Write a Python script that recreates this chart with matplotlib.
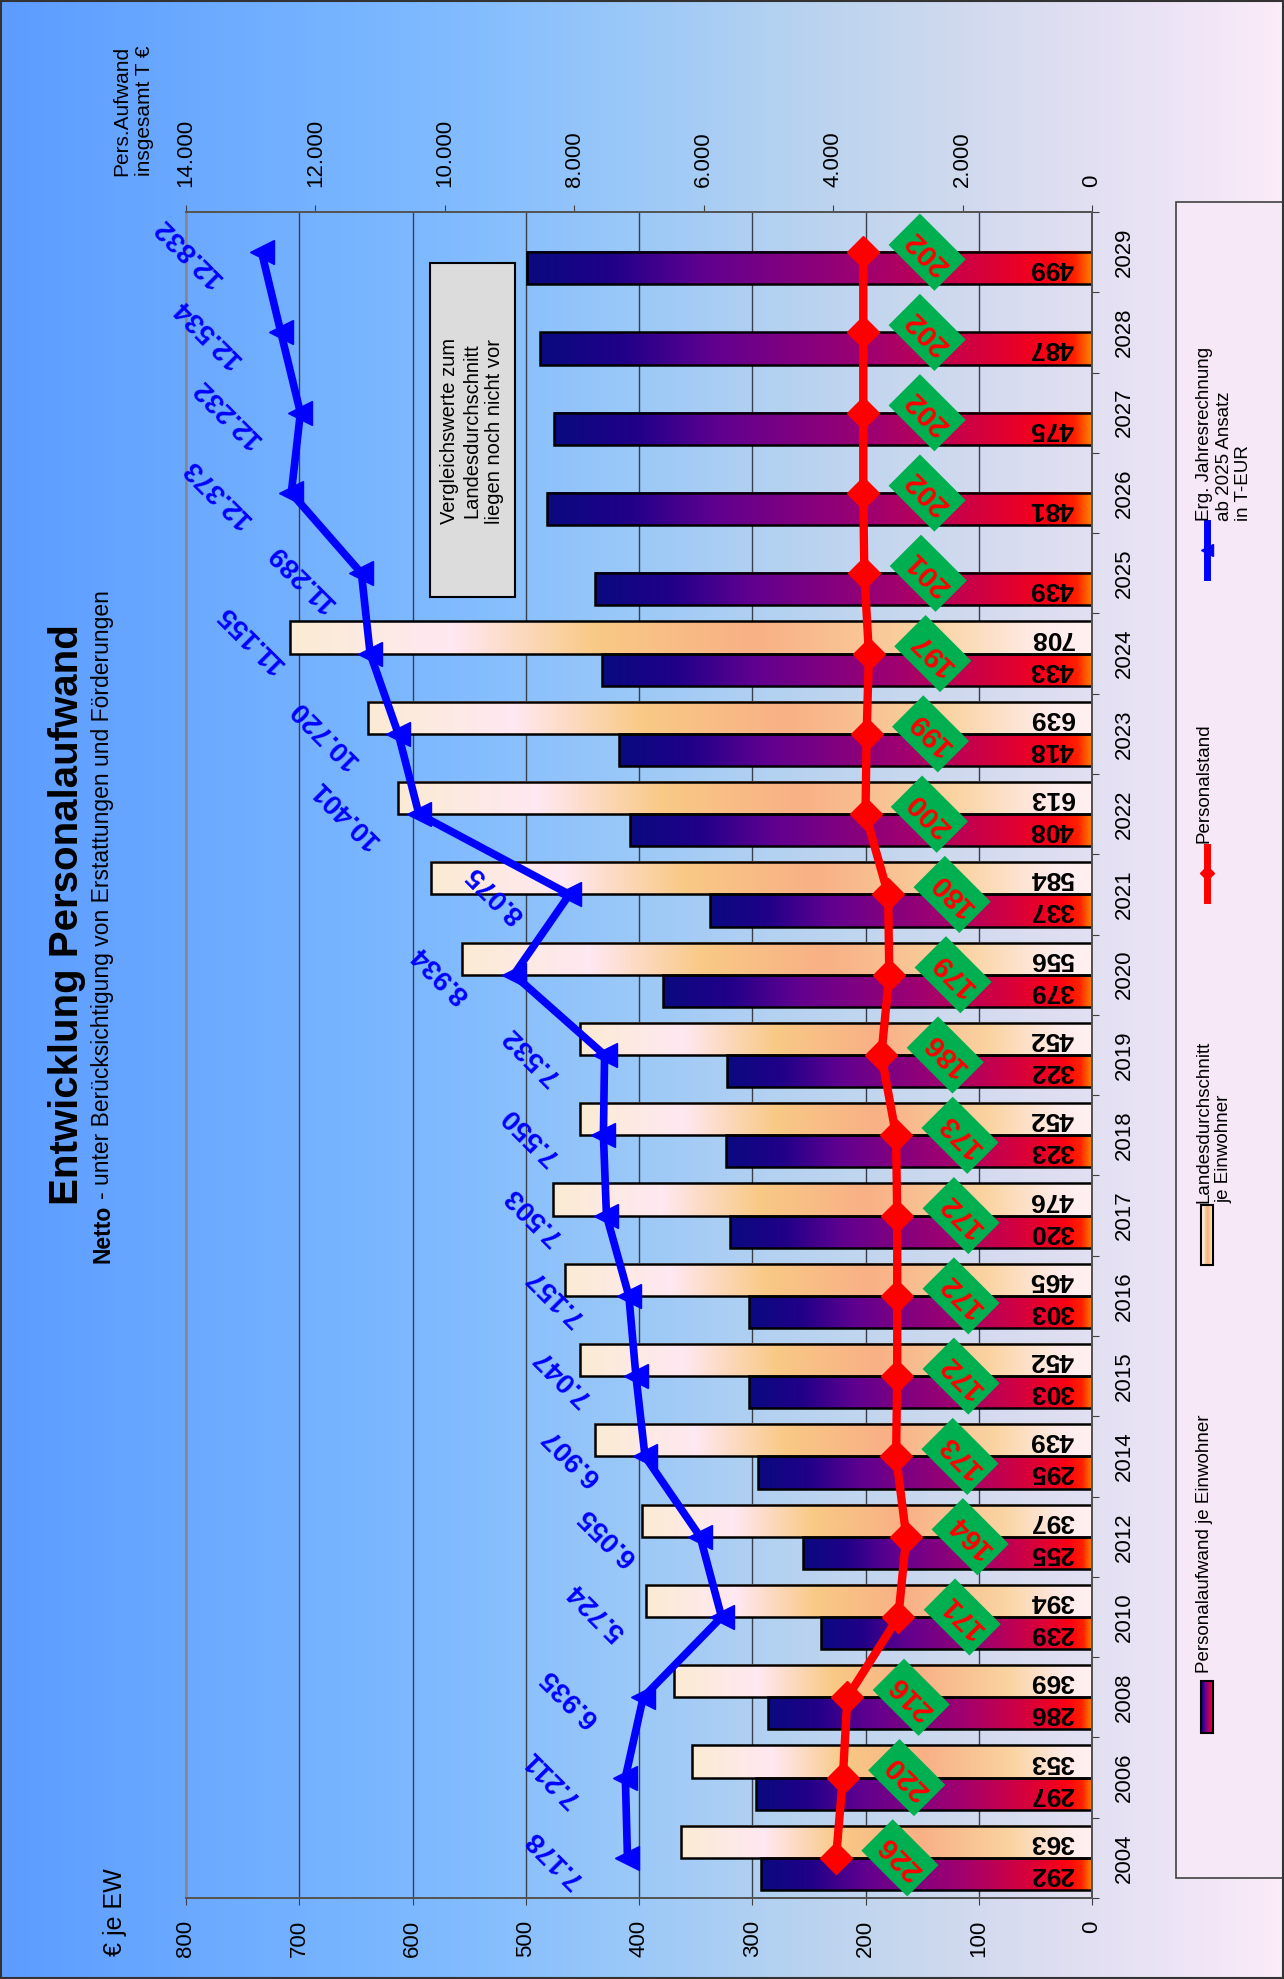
import numpy as np
import matplotlib.pyplot as plt
from matplotlib.colors import LinearSegmentedColormap
from matplotlib.patches import Rectangle

plt.rcParams['font.family'] = ['Liberation Sans', 'DejaVu Sans']

# Werte
jahre = ['2004', '2006', '2008', '2010', '2012', '2014', '2015', '2016', '2017', '2018',
         '2019', '2020', '2021', '2022', '2023', '2024', '2025', '2026', '2027', '2028', '2029']
aufwand_je_ew = [292, 297, 286, 239, 255, 295, 303, 303, 320, 323,
                 322, 379, 337, 408, 418, 433, 439, 481, 475, 487, 499]
landes_je_ew = [363, 353, 369, 394, 397, 439, 452, 465, 476, 452,
                452, 556, 584, 613, 639, 708, np.nan, np.nan, np.nan, np.nan, np.nan]
personalstand = [226, 220, 216, 171, 164, 173, 172, 172, 172, 173,
                 186, 179, 180, 200, 199, 197, 201, 202, 202, 202, 202]
aufwand_gesamt = [7178, 7211, 6935, 5724, 6055, 6907, 7047, 7157, 7503, 7550,
                  7532, 8934, 8075, 10401, 10720, 11155, 11289, 12373, 12232, 12534, 12832]
ticks_ew = list(range(0, 801, 100))
ticks_gesamt = list(range(0, 14001, 2000))

# Sonderpositionen einzelner Beschriftungen (Punkte)
blau_offset = {3: (-90, 4), 4: (-67, 0), 15: (-86, 11), 16: (-43, -3)}

W, H = 1284, 1979
fig = plt.figure(figsize=(W / 100, H / 100), dpi=100)

hg_cmap = LinearSegmentedColormap.from_list('hg', [
    (0.0, '#5C9CFF'), (0.2, '#70AEFF'), (0.35, '#80BBFF'), (0.5, '#9CC9F8'),
    (0.6, '#B3D1F1'), (0.7, '#C6D7EE'), (0.8, '#DADCF0'), (0.9, '#EAE3F5'), (1.0, '#FCEBF9')])
lila_cmap = LinearSegmentedColormap.from_list('lila', [
    (0.0, '#0A0A80'), (0.15, '#200088'), (0.31, '#600090'), (0.6, '#A00070'),
    (0.81, '#D8003A'), (0.92, '#FA0015'), (0.97, '#FF2000'), (1.0, '#FF8000')])
creme_cmap = LinearSegmentedColormap.from_list('creme', [
    (0.0, '#FBEBD3'), (0.2, '#FFE8F2'), (0.38, '#F9C985'), (0.58, '#F8B085'),
    (0.8, '#FAD3A0'), (0.95, '#FFEDEE'), (1.0, '#FFF0F0')])
grad = np.linspace(0, 1, 256)[None, :]

# Hintergrundverlauf
bg = fig.add_axes([0, 0, 1, 1], zorder=-5)
bg.imshow(grad, cmap=hg_cmap, aspect='auto', extent=[0, 1, 0, 1])
bg.axis('off')

# Diagrammfläche
links, rechts, oben, unten = 186, 1092, 212, 1898
ax = fig.add_axes([links / W, 1 - unten / H, (rechts - links) / W, (unten - oben) / H])
ax.patch.set_visible(False)
pos = np.arange(len(jahre))
breite = 0.4

balken_ew = ax.barh(pos - breite / 2, aufwand_je_ew, height=breite, facecolor='none',
                    edgecolor='black', linewidth=1.8, zorder=3)
balken_land = ax.barh(pos + breite / 2, landes_je_ew, height=breite, facecolor='none',
                      edgecolor='black', linewidth=1.8, zorder=3)


def verlauf_fuellen(balken, cmap):
    for b in balken:
        w = b.get_width()
        if np.isnan(w):
            continue
        x0, y0, h = b.get_x(), b.get_y(), b.get_height()
        ax.imshow(grad, cmap=cmap, aspect='auto', interpolation='bilinear',
                  extent=[x0 + w, x0, y0, y0 + h], zorder=2)


verlauf_fuellen(balken_ew, lila_cmap)
verlauf_fuellen(balken_land, creme_cmap)

for balken in (balken_ew, balken_land):
    for b in balken:
        w = b.get_width()
        if np.isnan(w):
            continue
        ax.annotate(f'{w:.0f}', xy=(0, b.get_y() + b.get_height() / 2), xytext=(-13, 0),
                    textcoords='offset points', rotation=180, ha='right', va='center',
                    fontsize=19, fontweight='bold', annotation_clip=False, zorder=4)

# Personalstand
ax.plot(personalstand, pos, color='#FF0000', lw=6, marker='D', ms=16, zorder=5)
for v, p in zip(personalstand, pos):
    ax.annotate(str(v), xy=(v, p), xytext=(46, 0), textcoords='offset points',
                rotation=135, ha='center', va='center', color='#FF0000',
                fontsize=21, fontweight='bold', zorder=6,
                bbox=dict(boxstyle='square,pad=0.28', fc='#00B050', ec='none'))

ax.set_xlim(800, 0)
ax.set_ylim(-0.5, len(jahre) - 0.5)
ax.set_xticks(ticks_ew)
ax.tick_params(axis='x', labelrotation=90, labelsize=16, length=5, pad=11, color='#404040')
ax.grid(axis='x', color='#3A3F4A', lw=1)
ax.set_axisbelow(True)

ax.yaxis.tick_right()
ax.set_yticks(np.arange(-0.5, len(jahre)), labels=[])
ax.set_yticks(pos, labels=jahre, minor=True)
ax.tick_params(axis='y', which='major', length=5, color='#404040')
ax.tick_params(axis='y', which='minor', length=0, pad=16, labelsize=16, labelrotation=90)
for t in ax.get_yticklabels(minor=True):
    t.set_va('center')

# Gesamtaufwand (zweite Achse)
ax2 = ax.twiny()
ax2.set_xlim(14000, 0)
ax2.set_xticks(ticks_gesamt, labels=[f'{v:,}'.replace(',', '.') for v in ticks_gesamt])
ax2.tick_params(axis='x', labelrotation=90, labelsize=16, length=5, pad=13, color='#404040')
ax2.plot(aufwand_gesamt, pos, color='#0000FF', lw=5.5, marker='<', ms=17, zorder=5)
for i, (v, p) in enumerate(zip(aufwand_gesamt, pos)):
    dx, dy = blau_offset.get(i, (-53, 0))
    ax2.annotate(f'{v:,}'.replace(',', '.'), xy=(v, p), xytext=(dx, dy),
                 textcoords='offset points', rotation=135, ha='center', va='center',
                 color='#0000FF', fontsize=20, fontweight='bold', zorder=6)

for a in (ax, ax2):
    for s in a.spines.values():
        s.set_color('#555555')
        s.set_linewidth(1.4)
ax.spines['left'].set_color('#888888')
ax2.spines['left'].set_color('#888888')

# Texte, Legende, Hinweis (Pixelkoordinaten)
fg = fig.add_axes([0, 0, 1, 1], zorder=10)
fg.set_autoscale_on(False)
fg.set_xlim(0, W)
fg.set_ylim(H, 0)
fg.axis('off')

fg.text(67, 915, 'Entwicklung Personalaufwand', rotation=90, ha='center', va='center',
        fontsize=29, fontweight='bold')
t = fg.text(103, 1263, 'Netto', rotation=90, ha='center', va='bottom',
            fontsize=16.5, fontweight='bold')
bb = t.get_window_extent(fig.canvas.get_renderer())
fg.text(103, H - bb.y1 - 6, '- unter Berücksichtigung von Erstattungen und Förderungen',
        rotation=90, ha='center', va='bottom', fontsize=16.5)

fg.text(115, 1956, '€ je EW', rotation=90, ha='center', va='bottom', fontsize=18)
fg.text(133, 176, 'Pers.Aufwand\ninsgesamt T €', rotation=90, ha='center', va='bottom',
        multialignment='left', fontsize=15)

# Hinweisbox
fg.add_patch(Rectangle((430, 263), 85, 334, fc='#DCDCDC', ec='black', lw=1.5))
fg.text(472, 431, 'Vergleichswerte zum\nLandesdurchschnitt\nliegen noch nicht vor',
        rotation=90, ha='center', va='center', multialignment='center', fontsize=14.5,
        linespacing=1.25)

# Legende
fg.add_patch(Rectangle((1176, 202), W - 1176, 1878 - 202, fc='#F6E8F7', ec='#404040', lw=1.2))
fg.imshow(grad, cmap=lila_cmap, aspect='auto', extent=[1201, 1213, 1733, 1681], zorder=2)
fg.add_patch(Rectangle((1201, 1681), 12, 52, fc='none', ec='black', lw=1.5, zorder=3))
fg.imshow(grad, cmap=creme_cmap, aspect='auto', extent=[1201, 1213, 1265, 1205], zorder=2)
fg.add_patch(Rectangle((1201, 1205), 12, 60, fc='none', ec='black', lw=1.5, zorder=3))
fg.plot([1207, 1207], [847, 900], color='#FF0000', lw=5)
fg.plot([1207], [873], color='#FF0000', marker='D', ms=7)
fg.plot([1207, 1207], [523, 577], color='#0000FF', lw=5)
fg.plot([1207], [550], color='#0000FF', marker='<', ms=8)

leg_text = dict(rotation=90, ha='left', va='bottom', multialignment='left', fontsize=13.5)
fg.text(1196, 1673, 'Personalaufwand je Einwohner', **leg_text)
fg.text(1196, 1203, 'Landesdurchschnitt\nje Einwohner', **leg_text)
fg.text(1196, 843, 'Personalstand', **leg_text)
fg.text(1196, 521, 'Erg. Jahresrechnung\nab 2025 Ansatz\nin T-EUR', **leg_text)

fg.add_patch(Rectangle((1, 1), W - 2, H - 2, fc='none', ec='#333333', lw=1.5, zorder=20))
fg.set_xlim(0, W)
fg.set_ylim(H, 0)

fig.savefig('out.png', dpi=100)
